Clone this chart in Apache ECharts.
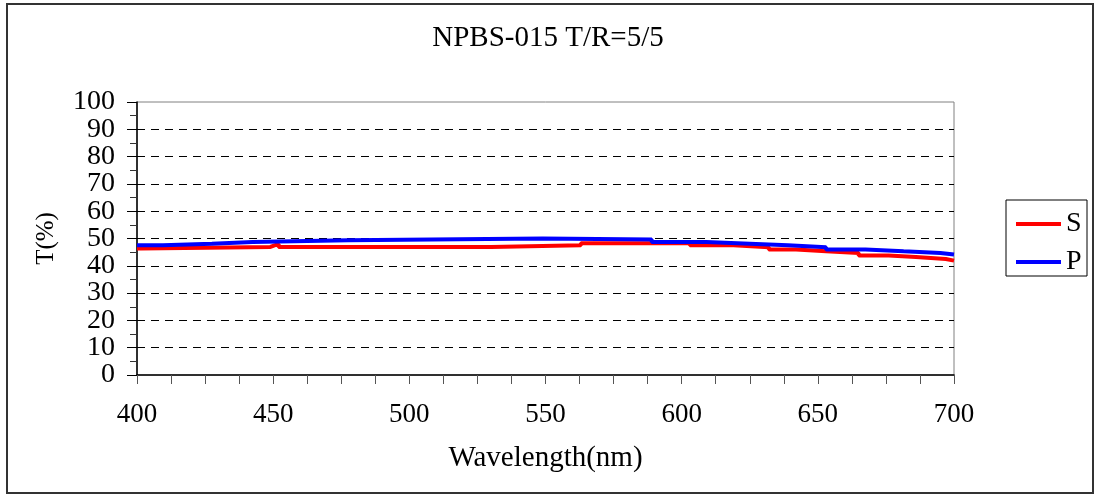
<!DOCTYPE html>
<html>
<head>
<meta charset="utf-8">
<script src="https://cdn.jsdelivr.net/npm/echarts@6/dist/echarts.min.js"></script>
<style>html,body{margin:0;padding:0;background:#fff;}#c{width:1096px;height:495px;}</style>
</head>
<body>
<div id="c"></div>
<script>
// Data
const titleText = 'NPBS-015 T/R=5/5';
const xName = 'Wavelength(nm)';
const yName = 'T(%)';
const seriesNames = ['S', 'P'];
const sWl  = [400, 401.5, 449, 450.5, 452, 530, 563, 603, 619, 632, 642, 653, 665, 676, 686, 697, 700];
const sVal = [46.3, 46.9, 47.5, 48.0, 46.9, 47.5, 48.3, 47.5, 46.8, 46.0, 45.3, 44.7, 43.8, 43.2, 42.5, 41.9, 41.9];
const pWl  = [400, 409.5, 427.5, 442.5, 477.5, 549, 589, 609, 625, 639, 653, 667.5, 681.5, 695, 700];
const pVal = [47.5, 48.1, 48.7, 49.4, 50.0, 49.6, 48.7, 48.1, 47.5, 46.8, 46.0, 45.3, 44.7, 44.1, 44.1];
const xMin = 400, xMax = 700, xTickStep = 12.5, xLabelStep = 50;
const yMin = 0, yMax = 100, yStep = 10;

const FONT = 'Liberation Serif';
const chart = echarts.init(document.getElementById('c'), null, {renderer: 'canvas'});

// Expand plateau data into step points: each value holds until the next wavelength
function stepPoints(xs, vs) {
  const out = [];
  for (let i = 0; i < xs.length; i++) {
    out.push([xs[i], vs[i]]);
    if (i + 1 < xs.length) out.push([xs[i + 1], vs[i]]);
  }
  return out;
}

// y labels split over two coincident axes so that tall labels are never auto-hidden
const yLabelStyle = {margin: 22, fontFamily: FONT, fontSize: 28, color: '#000',
  showMinLabel: true, showMaxLabel: true, hideOverlap: false};
const isEvenTen = v => Math.round(v / yStep) % 2 === 0;

chart.setOption({
  animation: false,
  backgroundColor: '#fff',
  title: {
    text: titleText, left: 'center', top: 19,
    textStyle: {fontFamily: FONT, fontSize: 29, fontWeight: 'normal', color: '#000'}
  },
  graphic: [
    {type: 'rect', shape: {x: 7, y: 4, width: 1086, height: 489}, style: {fill: 'none', stroke: '#333', lineWidth: 2}, z: 100},
    {type: 'rect', shape: {x: 1006, y: 200, width: 81, height: 76}, style: {fill: '#fff', stroke: '#000', lineWidth: 1}, z: 0}
  ],
  legend: {
    orient: 'vertical', left: 1006, top: 200,
    padding: [10, 6, 0, 10],
    itemWidth: 45, itemHeight: 4, itemGap: 10, itemTextGap: 7,
    icon: 'rect',
    textStyle: {fontFamily: FONT, fontSize: 28, color: '#000', lineHeight: 28},
    data: seriesNames, z: 5
  },
  grid: {
    left: 137, right: 142, top: 102, bottom: 120,
    show: true, borderColor: '#808080', borderWidth: 1, backgroundColor: 'transparent'
  },
  xAxis: {
    type: 'value', min: xMin, max: xMax, interval: xTickStep,
    name: xName, nameLocation: 'middle', nameGap: 69,
    nameTextStyle: {fontFamily: FONT, fontSize: 29, color: '#000'},
    axisLine: {show: true, onZero: false, lineStyle: {color: '#000', width: 1.5}},
    axisTick: {show: true, length: 9, lineStyle: {color: '#555', width: 1}},
    axisLabel: {
      margin: 26, fontFamily: FONT, fontSize: 27, color: '#000',
      showMinLabel: true, showMaxLabel: true, hideOverlap: false,
      formatter: v => (Math.abs(v % xLabelStep) < 1e-6 ? String(v) : '')
    },
    splitLine: {show: false}
  },
  yAxis: [{
    type: 'value', min: yMin, max: yMax, interval: yStep, position: 'left',
    name: yName, nameLocation: 'middle', nameRotate: 90, nameGap: 78,
    nameTextStyle: {fontFamily: FONT, fontSize: 25, color: '#000'},
    axisLine: {show: true, onZero: false, lineStyle: {color: '#000', width: 1.5}},
    axisTick: {show: true, length: 10, lineStyle: {color: '#000', width: 1}},
    minorTick: {show: true, splitNumber: 2, length: 7, lineStyle: {color: '#333', width: 1}},
    axisLabel: Object.assign({}, yLabelStyle, {formatter: v => (isEvenTen(v) ? String(v) : '')}),
    splitLine: {show: true, showMinLine: false, showMaxLine: false, lineStyle: {color: '#000', type: [8, 6], width: 1}}
  }, {
    type: 'value', min: yMin, max: yMax, interval: yStep, position: 'left', offset: 0,
    axisLine: {show: false}, axisTick: {show: false}, splitLine: {show: false},
    axisLabel: Object.assign({}, yLabelStyle, {formatter: v => (isEvenTen(v) ? '' : String(v))})
  }],
  series: [
    {name: seriesNames[0], type: 'line', showSymbol: false, symbol: 'none', yAxisIndex: 0,
     data: stepPoints(sWl, sVal), lineStyle: {color: '#ff0000', width: 4}, itemStyle: {color: '#ff0000'}},
    {name: seriesNames[1], type: 'line', showSymbol: false, symbol: 'none', yAxisIndex: 0,
     data: stepPoints(pWl, pVal), lineStyle: {color: '#0000ff', width: 4}, itemStyle: {color: '#0000ff'}}
  ]
});
</script>
</body>
</html>
